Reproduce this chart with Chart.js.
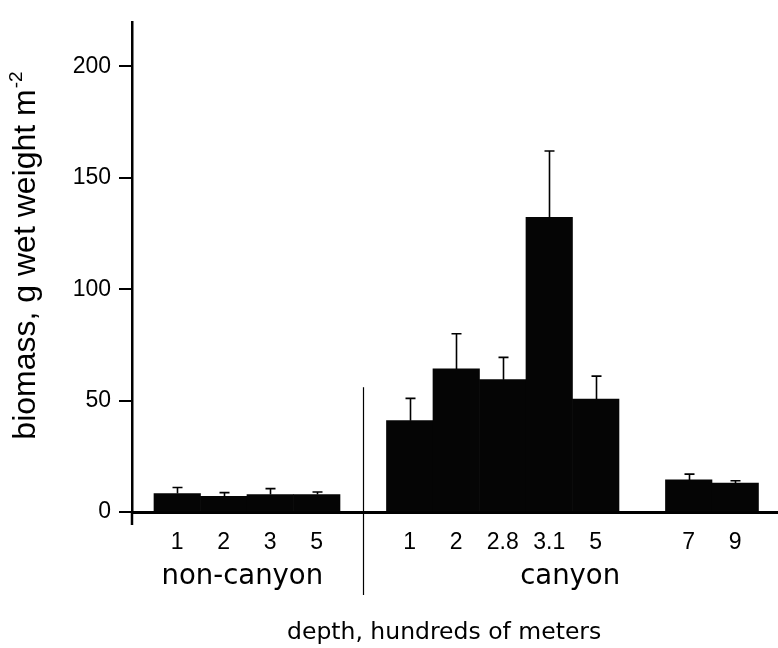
<!DOCTYPE html>
<html>
<head>
<meta charset="utf-8">
<script src="https://cdn.jsdelivr.net/npm/chart.js@4.4.1/dist/chart.umd.min.js"></script>
<style>
  html, body { margin: 0; padding: 0; background: #fff; }
  #wrap { width: 778px; height: 648px; }
</style>
</head>
<body>
<div id="wrap"><canvas id="chart" width="778" height="648"></canvas></div>
<script>
// slot positions along the x axis (gaps at 4 and 10 split the groups)
const slots = [0, 1, 2, 3, 5, 6, 7, 8, 9, 11, 12];
const depthLabels = ['1', '2', '3', '5', '1', '2', '2.8', '3.1', '5', '7', '9'];
// mean biomass, g wet weight m-2
const biomass = [8.3, 7.0, 7.8, 7.8, 41, 64.2, 59.4, 132.3, 50.7, 14.4, 13.0];
// upper error (added on top of the mean)
const errorUp = [2.7, 1.7, 2.7, 1.2, 10, 15.8, 10, 29.7, 10.3, 2.6, 1.0];
const yTicks = [0, 50, 100, 150, 200];
const groupNames = ['non-canyon', 'canyon'];
const groupCenters = [1.4, 8.45];
const dividerAt = 4;

const tickFont = { family: "'Liberation Sans', Arial, sans-serif", size: 23 };

const decorations = {
    id: 'decorations',
    afterDraw(chart) {
        const { ctx, scales: { x, y }, chartArea } = chart;
        ctx.save();
        ctx.strokeStyle = '#000';
        ctx.fillStyle = '#000';

        // error bars
        ctx.lineWidth = 1.6;
        slots.forEach((pos, i) => {
            const px = Math.round(x.getPixelForValue(pos)) + 0.5;
            const top = y.getPixelForValue(biomass[i]);
            const end = y.getPixelForValue(biomass[i] + errorUp[i]);
            ctx.beginPath();
            ctx.moveTo(px, top);
            ctx.lineTo(px, end);
            ctx.moveTo(px - 5, end);
            ctx.lineTo(px + 5, end);
            ctx.stroke();
        });

        // y axis runs a little below zero
        ctx.lineWidth = 2.5;
        ctx.beginPath();
        ctx.moveTo(chartArea.left, chartArea.bottom);
        ctx.lineTo(chartArea.left, chartArea.bottom + 13);
        ctx.stroke();

        // divider between non-canyon and canyon
        ctx.lineWidth = 1.2;
        const dx = Math.round(x.getPixelForValue(dividerAt)) + 0.5;
        ctx.beginPath();
        ctx.moveTo(dx, y.getPixelForValue(56));
        ctx.lineTo(dx, chartArea.bottom + 83);
        ctx.stroke();

        // group names
        ctx.font = "27.5px 'DejaVu Sans', Verdana, sans-serif";
        ctx.textAlign = 'center';
        ctx.textBaseline = 'alphabetic';
        groupNames.forEach((name, i) => {
            ctx.fillText(name, x.getPixelForValue(groupCenters[i]), chartArea.bottom + 72);
        });

        // x title
        ctx.font = "23.5px 'DejaVu Sans', Verdana, sans-serif";
        ctx.fillText('depth, hundreds of meters', x.getPixelForValue(5.74), chartArea.bottom + 127);

        // y title with superscript
        ctx.translate(35, 256);
        ctx.rotate(-Math.PI / 2);
        const mainFont = "32px 'Liberation Sans', Arial, sans-serif";
        const supFont = "19px 'Liberation Sans', Arial, sans-serif";
        const main = 'biomass, g wet weight m';
        const sup = '-2';
        ctx.font = mainFont;
        const mw = ctx.measureText(main).width;
        ctx.font = supFont;
        const sw = ctx.measureText(sup).width;
        const startX = -(mw + sw) / 2;
        ctx.textAlign = 'left';
        ctx.font = mainFont;
        ctx.fillText(main, startX, 0);
        ctx.font = supFont;
        ctx.fillText(sup, startX + mw + 1, -13);
        ctx.restore();
    }
};

new Chart(document.getElementById('chart'), {
    type: 'bar',
    data: {
        datasets: [{
            data: slots.map((pos, i) => ({ x: pos, y: biomass[i] })),
            backgroundColor: '#050505',
            borderWidth: 0,
            barPercentage: 1,
            categoryPercentage: 1
        }]
    },
    options: {
        responsive: false,
        animation: false,
        layout: { padding: { top: 8, right: 0, left: 0, bottom: 0 } },
        plugins: { legend: { display: false }, tooltip: { enabled: false } },
        scales: {
            x: {
                type: 'linear',
                min: -0.973,
                max: 12.92,
                offset: false,
                grid: { display: false, drawTicks: false },
                border: { display: true, color: '#000', width: 3 },
                afterFit: (scale) => { scale.height = 136; },
                afterBuildTicks: (scale) => {
                    scale.ticks = slots.map(v => ({ value: v }));
                },
                ticks: {
                    color: '#000',
                    font: tickFont,
                    padding: 17,
                    autoSkip: false,
                    maxRotation: 0,
                    callback: (value) => {
                        const i = slots.indexOf(value);
                        return i >= 0 ? depthLabels[i] : '';
                    }
                }
            },
            y: {
                min: 0,
                max: 220,
                afterFit: (scale) => { scale.width = 132; },
                afterBuildTicks: (scale) => {
                    scale.ticks = yTicks.map(v => ({ value: v }));
                },
                grid: {
                    drawOnChartArea: false,
                    drawTicks: true,
                    tickLength: 13,
                    lineWidth: 2,
                    color: '#000'
                },
                border: { display: true, color: '#000', width: 2.5 },
                ticks: {
                    color: '#000',
                    font: tickFont,
                    padding: 8
                }
            }
        }
    },
    plugins: [decorations]
});
</script>
</body>
</html>
